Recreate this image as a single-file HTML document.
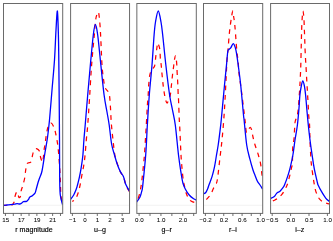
<!DOCTYPE html><html><head><meta charset="utf-8"><style>html,body{margin:0;padding:0;background:#fff}svg{display:block;will-change:transform;opacity:0.999}text{font-family:"Liberation Sans",sans-serif;fill:#000;stroke:#000;stroke-width:0.15px}.t{stroke-width:0.04px}</style></head><body>
<svg width="333" height="241" viewBox="0 0 333 241">
<rect width="333" height="241" fill="#fff"/>
<clipPath id="c0"><rect x="3.50" y="3.50" width="59.20" height="209.90"/></clipPath>
<line x1="3.50" x2="62.70" y1="205.30" y2="205.30" stroke="#e4e4e4" stroke-width="0.45"/>
<g clip-path="url(#c0)" fill="none" stroke-linejoin="round">
<path d="M3.60 205.30 C4.92 205.27 9.85 205.48 11.50 205.10 C13.15 204.72 12.98 203.73 13.50 203.00 C14.02 202.27 14.32 201.93 14.60 200.70 C14.88 199.47 14.78 197.07 15.20 195.60 C15.62 194.13 16.47 191.58 17.10 191.90 C17.73 192.22 18.42 196.82 19.00 197.50 C19.58 198.18 20.23 197.15 20.60 196.00 C20.97 194.85 20.83 192.33 21.20 190.60 C21.57 188.87 22.22 187.70 22.80 185.60 C23.38 183.50 24.22 180.60 24.70 178.00 C25.18 175.40 25.33 172.33 25.70 170.00 C26.07 167.67 26.38 165.22 26.90 164.00 C27.42 162.78 28.17 163.00 28.80 162.70 C29.43 162.40 30.17 163.05 30.70 162.20 C31.23 161.35 31.58 159.20 32.00 157.60 C32.42 156.00 32.70 153.93 33.20 152.60 C33.70 151.27 34.37 150.23 35.00 149.60 C35.63 148.97 36.25 148.52 37.00 148.80 C37.75 149.08 38.97 150.13 39.50 151.30 C40.03 152.47 39.83 154.22 40.20 155.80 C40.57 157.38 41.30 159.77 41.70 160.80 C42.10 161.83 42.32 162.63 42.60 162.00 C42.88 161.37 43.13 159.20 43.40 157.00 C43.67 154.80 43.90 150.97 44.20 148.80 C44.50 146.63 44.90 145.97 45.20 144.00 C45.50 142.03 45.53 139.83 46.00 137.00 C46.47 134.17 47.17 129.33 48.00 127.00 C48.83 124.67 50.00 122.92 51.00 123.00 C52.00 123.08 53.17 125.50 54.00 127.50 C54.83 129.50 55.33 131.75 56.00 135.00 C56.67 138.25 57.42 142.00 58.00 147.00 C58.58 152.00 59.12 159.50 59.50 165.00 C59.88 170.50 60.07 175.00 60.30 180.00 C60.53 185.00 60.53 190.92 60.90 195.00 C61.27 199.08 62.23 202.92 62.50 204.50" stroke="#f00" stroke-width="1.25" stroke-dasharray="4.7 4.7" stroke-dashoffset="1.50" id="r0"/>
<path d="M3.60 205.30 C4.17 205.25 5.80 205.10 7.00 205.00 C8.20 204.90 9.53 204.83 10.80 204.70 C12.07 204.57 13.55 204.38 14.60 204.20 C15.65 204.02 16.25 203.63 17.10 203.60 C17.95 203.57 18.97 204.07 19.70 204.00 C20.43 203.93 20.88 203.58 21.50 203.20 C22.12 202.82 22.55 202.02 23.40 201.70 C24.25 201.38 25.75 201.68 26.60 201.30 C27.45 200.92 27.98 200.08 28.50 199.40 C29.02 198.72 29.07 197.82 29.70 197.20 C30.33 196.58 31.42 196.38 32.30 195.70 C33.18 195.02 34.38 194.05 35.00 193.10 C35.62 192.15 35.52 191.68 36.00 190.00 C36.48 188.32 37.30 185.00 37.90 183.00 C38.50 181.00 38.92 180.00 39.60 178.00 C40.28 176.00 41.10 175.25 42.00 171.00 C42.90 166.75 44.08 158.08 45.00 152.50 C45.92 146.92 46.75 142.92 47.50 137.50 C48.25 132.08 48.75 127.92 49.50 120.00 C50.25 112.08 51.17 100.00 52.00 90.00 C52.83 80.00 53.83 70.00 54.50 60.00 C55.17 50.00 55.52 38.17 56.00 30.00 C56.48 21.83 57.00 10.17 57.40 11.00 C57.80 11.83 58.17 26.83 58.40 35.00 C58.63 43.17 58.67 49.17 58.80 60.00 C58.93 70.83 59.08 86.67 59.20 100.00 C59.32 113.33 59.42 126.67 59.50 140.00 C59.58 153.33 59.57 170.83 59.70 180.00 C59.83 189.17 59.83 190.92 60.30 195.00 C60.77 199.08 62.13 202.92 62.50 204.50" stroke="#0000ff" stroke-width="1.3"/>
</g>
<rect x="3.50" y="3.50" width="59.20" height="209.90" fill="none" stroke="#6a6a6a" stroke-width="1.00"/>
<line x1="5.45" x2="5.45" y1="213.40" y2="216.00" stroke="#555" stroke-width="0.85"/>
<text class="t" x="5.65" y="221.7" font-size="6.20" text-anchor="middle">15</text>
<line x1="13.31" x2="13.31" y1="213.40" y2="216.00" stroke="#555" stroke-width="0.85"/>
<line x1="21.17" x2="21.17" y1="213.40" y2="216.00" stroke="#555" stroke-width="0.85"/>
<text class="t" x="21.37" y="221.7" font-size="6.20" text-anchor="middle">17</text>
<line x1="29.03" x2="29.03" y1="213.40" y2="216.00" stroke="#555" stroke-width="0.85"/>
<line x1="36.89" x2="36.89" y1="213.40" y2="216.00" stroke="#555" stroke-width="0.85"/>
<text class="t" x="37.09" y="221.7" font-size="6.20" text-anchor="middle">19</text>
<line x1="44.75" x2="44.75" y1="213.40" y2="216.00" stroke="#555" stroke-width="0.85"/>
<line x1="52.61" x2="52.61" y1="213.40" y2="216.00" stroke="#555" stroke-width="0.85"/>
<text class="t" x="52.81" y="221.7" font-size="6.20" text-anchor="middle">21</text>
<line x1="60.47" x2="60.47" y1="213.40" y2="216.00" stroke="#555" stroke-width="0.85"/>
<text x="34.00" y="232" font-size="7.10" text-anchor="middle">r magnitude</text>
<clipPath id="c1"><rect x="70.60" y="3.50" width="58.95" height="209.90"/></clipPath>
<line x1="70.60" x2="129.55" y1="205.30" y2="205.30" stroke="#e4e4e4" stroke-width="0.45"/>
<g clip-path="url(#c1)" fill="none" stroke-linejoin="round">
<path d="M72.30 201.50 C72.85 201.05 74.63 200.22 75.60 198.80 C76.57 197.38 77.37 195.22 78.10 193.00 C78.83 190.78 79.37 188.50 80.00 185.50 C80.63 182.50 81.27 178.42 81.90 175.00 C82.53 171.58 83.28 168.23 83.80 165.00 C84.32 161.77 84.58 159.77 85.00 155.60 C85.42 151.43 85.86 144.93 86.30 140.00 C86.74 135.07 87.12 132.87 87.65 126.00 C88.18 119.13 88.84 108.97 89.50 98.80 C90.16 88.63 90.80 75.63 91.60 65.00 C92.40 54.37 93.60 42.67 94.30 35.00 C95.00 27.33 95.35 22.42 95.80 19.00 C96.25 15.58 96.58 15.67 97.00 14.50 C97.42 13.33 97.97 11.92 98.30 12.00 C98.63 12.08 98.72 12.83 99.00 15.00 C99.28 17.17 99.69 20.83 100.00 25.00 C100.31 29.17 100.52 33.33 100.85 40.00 C101.18 46.67 101.59 58.73 102.00 65.00 C102.41 71.27 102.77 73.82 103.30 77.60 C103.83 81.38 104.25 85.07 105.20 87.70 C106.15 90.33 108.15 90.52 109.00 93.40 C109.85 96.28 109.92 100.07 110.30 105.00 C110.68 109.93 110.85 117.17 111.30 123.00 C111.75 128.83 112.38 134.50 113.00 140.00 C113.62 145.50 114.23 151.90 115.00 156.00 C115.77 160.10 116.67 161.90 117.60 164.60 C118.53 167.30 119.58 170.10 120.60 172.20 C121.62 174.30 122.82 175.07 123.70 177.20 C124.58 179.33 124.93 182.57 125.90 185.00 C126.87 187.43 128.90 190.67 129.50 191.80" stroke="#f00" stroke-width="1.25" stroke-dasharray="4.7 4.7" stroke-dashoffset="2.75" id="r1"/>
<path d="M70.50 199.40 C71.03 198.67 72.75 196.68 73.70 195.00 C74.65 193.32 75.57 190.97 76.20 189.30 C76.83 187.63 76.98 186.93 77.50 185.00 C78.02 183.07 78.68 180.60 79.30 177.70 C79.92 174.80 80.60 171.38 81.20 167.60 C81.80 163.82 82.45 159.60 82.90 155.00 C83.35 150.40 83.52 145.00 83.90 140.00 C84.28 135.00 84.57 132.50 85.20 125.00 C85.83 117.50 86.84 105.00 87.70 95.00 C88.56 85.00 89.42 75.00 90.35 65.00 C91.28 55.00 92.47 41.75 93.30 35.00 C94.12 28.25 94.57 24.50 95.30 24.50 C96.03 24.50 96.78 28.25 97.70 35.00 C98.62 41.75 99.78 55.00 100.85 65.00 C101.92 75.00 103.07 87.17 104.10 95.00 C105.12 102.83 106.15 107.00 107.00 112.00 C107.85 117.00 108.43 119.67 109.20 125.00 C109.97 130.33 110.72 139.00 111.60 144.00 C112.48 149.00 113.58 151.70 114.50 155.00 C115.42 158.30 116.15 161.07 117.10 163.80 C118.05 166.53 119.15 169.30 120.20 171.40 C121.25 173.50 122.50 174.30 123.40 176.40 C124.30 178.50 124.58 181.53 125.60 184.00 C126.62 186.47 128.85 190.00 129.50 191.20" stroke="#0000ff" stroke-width="1.3"/>
</g>
<rect x="70.60" y="3.50" width="58.95" height="209.90" fill="none" stroke="#6a6a6a" stroke-width="1.00"/>
<line x1="72.40" x2="72.40" y1="213.40" y2="216.00" stroke="#555" stroke-width="0.85"/>
<text class="t" x="72.60" y="221.7" font-size="6.20" text-anchor="middle">−1</text>
<line x1="84.85" x2="84.85" y1="213.40" y2="216.00" stroke="#555" stroke-width="0.85"/>
<text class="t" x="85.05" y="221.7" font-size="6.20" text-anchor="middle">0</text>
<line x1="97.30" x2="97.30" y1="213.40" y2="216.00" stroke="#555" stroke-width="0.85"/>
<text class="t" x="97.50" y="221.7" font-size="6.20" text-anchor="middle">1</text>
<line x1="109.75" x2="109.75" y1="213.40" y2="216.00" stroke="#555" stroke-width="0.85"/>
<text class="t" x="109.95" y="221.7" font-size="6.20" text-anchor="middle">2</text>
<line x1="122.20" x2="122.20" y1="213.40" y2="216.00" stroke="#555" stroke-width="0.85"/>
<text class="t" x="122.40" y="221.7" font-size="6.20" text-anchor="middle">3</text>
<text x="100.00" y="232" font-size="7.10" text-anchor="middle">u–g</text>
<clipPath id="c2"><rect x="136.85" y="3.50" width="59.45" height="209.90"/></clipPath>
<line x1="136.85" x2="196.30" y1="205.30" y2="205.30" stroke="#e4e4e4" stroke-width="0.45"/>
<g clip-path="url(#c2)" fill="none" stroke-linejoin="round">
<path d="M136.60 201.80 C136.92 201.08 137.87 199.47 138.50 197.50 C139.13 195.53 139.83 192.92 140.40 190.00 C140.97 187.08 141.28 185.20 141.90 180.00 C142.52 174.80 143.65 163.35 144.10 158.80 C144.55 154.25 144.23 158.33 144.60 152.70 C144.97 147.07 145.83 132.95 146.30 125.00 C146.77 117.05 147.08 110.00 147.40 105.00 C147.72 100.00 148.00 98.10 148.20 95.00 C148.40 91.90 148.33 89.73 148.60 86.40 C148.87 83.07 149.23 77.83 149.80 75.00 C150.37 72.17 151.20 70.90 152.00 69.40 C152.80 67.90 153.97 68.17 154.60 66.00 C155.23 63.83 155.40 59.57 155.80 56.40 C156.20 53.23 156.69 49.23 157.00 47.00 C157.31 44.77 157.33 43.22 157.65 43.00 C157.97 42.78 158.53 44.53 158.90 45.70 C159.28 46.87 159.65 47.78 159.90 50.00 C160.15 52.22 160.18 56.50 160.40 59.00 C160.62 61.50 160.92 62.33 161.20 65.00 C161.48 67.67 161.75 71.43 162.10 75.00 C162.45 78.57 162.88 83.07 163.30 86.40 C163.72 89.73 164.22 92.73 164.60 95.00 C164.98 97.27 165.18 98.67 165.60 100.00 C166.02 101.33 166.60 103.00 167.10 103.00 C167.60 103.00 168.07 101.33 168.60 100.00 C169.13 98.67 169.85 97.27 170.30 95.00 C170.75 92.73 170.93 89.73 171.30 86.40 C171.67 83.07 172.08 78.57 172.50 75.00 C172.92 71.43 173.45 67.67 173.80 65.00 C174.15 62.33 174.33 60.53 174.60 59.00 C174.87 57.47 175.13 55.80 175.40 55.80 C175.67 55.80 175.97 57.47 176.20 59.00 C176.43 60.53 176.63 62.53 176.80 65.00 C176.97 67.47 177.03 70.63 177.20 73.80 C177.37 76.97 177.63 80.47 177.80 84.00 C177.97 87.53 178.08 92.53 178.20 95.00 C178.32 97.47 178.32 94.63 178.50 98.80 C178.68 102.97 179.10 115.47 179.30 120.00 C179.50 124.53 179.42 120.17 179.70 126.00 C179.98 131.83 180.62 148.00 181.00 155.00 C181.38 162.00 181.63 163.83 182.00 168.00 C182.37 172.17 182.85 177.28 183.20 180.00 C183.55 182.72 183.53 181.92 184.10 184.30 C184.67 186.68 185.65 191.68 186.60 194.30 C187.55 196.92 188.75 198.73 189.80 200.00 C190.85 201.27 191.82 201.40 192.90 201.90 C193.98 202.40 195.73 202.82 196.30 203.00" stroke="#f00" stroke-width="1.25" stroke-dasharray="4.7 4.7" stroke-dashoffset="5.85" id="r2"/>
<path d="M136.60 202.20 C137.17 201.32 139.12 198.83 140.00 196.90 C140.88 194.97 141.43 192.58 141.90 190.60 C142.37 188.62 142.17 190.93 142.80 185.00 C143.43 179.07 144.94 165.00 145.70 155.00 C146.46 145.00 146.75 135.00 147.35 125.00 C147.95 115.00 148.53 105.00 149.30 95.00 C150.08 85.00 151.20 75.00 152.00 65.00 C152.80 55.00 153.52 42.17 154.10 35.00 C154.68 27.83 154.81 26.00 155.50 22.00 C156.19 18.00 157.33 11.00 158.25 11.00 C159.17 11.00 160.26 18.00 161.00 22.00 C161.74 26.00 161.89 27.83 162.70 35.00 C163.51 42.17 164.70 55.00 165.85 65.00 C167.00 75.00 168.49 87.50 169.60 95.00 C170.71 102.50 171.55 105.00 172.50 110.00 C173.45 115.00 174.30 117.50 175.30 125.00 C176.30 132.50 177.55 147.05 178.50 155.00 C179.45 162.95 180.27 168.03 181.00 172.70 C181.73 177.37 182.17 180.23 182.90 183.00 C183.63 185.77 184.35 187.30 185.40 189.30 C186.45 191.30 187.83 193.42 189.20 195.00 C190.57 196.58 192.42 197.97 193.60 198.80 C194.78 199.63 195.85 199.80 196.30 200.00" stroke="#0000ff" stroke-width="1.3"/>
</g>
<rect x="136.85" y="3.50" width="59.45" height="209.90" fill="none" stroke="#6a6a6a" stroke-width="1.00"/>
<line x1="139.10" x2="139.10" y1="213.40" y2="216.00" stroke="#555" stroke-width="0.85"/>
<text class="t" x="139.30" y="221.7" font-size="6.20" text-anchor="middle">0.0</text>
<line x1="150.02" x2="150.02" y1="213.40" y2="216.00" stroke="#555" stroke-width="0.85"/>
<line x1="160.94" x2="160.94" y1="213.40" y2="216.00" stroke="#555" stroke-width="0.85"/>
<text class="t" x="161.14" y="221.7" font-size="6.20" text-anchor="middle">1.0</text>
<line x1="171.86" x2="171.86" y1="213.40" y2="216.00" stroke="#555" stroke-width="0.85"/>
<line x1="182.78" x2="182.78" y1="213.40" y2="216.00" stroke="#555" stroke-width="0.85"/>
<text class="t" x="182.98" y="221.7" font-size="6.20" text-anchor="middle">2.0</text>
<line x1="193.70" x2="193.70" y1="213.40" y2="216.00" stroke="#555" stroke-width="0.85"/>
<text x="166.75" y="232" font-size="7.10" text-anchor="middle">g–r</text>
<clipPath id="c3"><rect x="203.50" y="3.50" width="59.20" height="209.90"/></clipPath>
<line x1="203.50" x2="262.70" y1="205.30" y2="205.30" stroke="#e4e4e4" stroke-width="0.45"/>
<g clip-path="url(#c3)" fill="none" stroke-linejoin="round">
<path d="M203.50 202.20 C204.08 201.63 205.78 200.12 207.00 198.80 C208.22 197.48 209.75 195.98 210.80 194.30 C211.85 192.62 212.50 190.37 213.30 188.70 C214.10 187.03 214.93 185.75 215.60 184.30 C216.27 182.85 216.57 184.47 217.30 180.00 C218.03 175.53 219.22 164.17 220.00 157.50 C220.78 150.83 221.38 146.25 222.00 140.00 C222.62 133.75 223.25 126.67 223.75 120.00 C224.25 113.33 224.58 107.50 225.00 100.00 C225.42 92.50 225.92 81.67 226.25 75.00 C226.58 68.33 226.71 64.17 227.00 60.00 C227.29 55.83 227.60 54.55 228.00 50.00 C228.40 45.45 228.87 37.85 229.40 32.70 C229.93 27.55 230.63 22.72 231.20 19.10 C231.77 15.48 232.38 11.35 232.80 11.00 C233.22 10.65 233.43 15.27 233.70 17.00 C233.97 18.73 234.13 19.08 234.40 21.40 C234.67 23.72 234.91 26.13 235.30 30.90 C235.69 35.67 236.27 44.82 236.75 50.00 C237.23 55.18 237.84 58.25 238.20 62.00 C238.56 65.75 238.38 67.83 238.90 72.50 C239.42 77.17 240.28 82.08 241.30 90.00 C242.32 97.92 244.17 113.00 245.00 120.00 C245.83 127.00 245.80 130.33 246.30 132.00 C246.80 133.67 247.35 130.77 248.00 130.00 C248.65 129.23 249.62 127.48 250.20 127.40 C250.78 127.32 251.03 127.90 251.50 129.50 C251.97 131.10 252.43 134.50 253.00 137.00 C253.57 139.50 254.07 141.70 254.90 144.50 C255.73 147.30 257.05 150.57 258.00 153.80 C258.95 157.03 259.97 160.63 260.60 163.90 C261.23 167.17 261.47 170.88 261.80 173.40 C262.13 175.92 262.47 178.07 262.60 179.00" stroke="#f00" stroke-width="1.25" stroke-dasharray="4.7 4.7" stroke-dashoffset="5.50" id="r3"/>
<path d="M203.50 193.80 C203.88 193.58 205.10 193.35 205.80 192.50 C206.50 191.65 207.12 190.12 207.70 188.70 C208.28 187.28 208.57 186.05 209.30 184.00 C210.03 181.95 211.22 179.35 212.10 176.40 C212.98 173.45 213.87 169.87 214.60 166.30 C215.33 162.73 215.90 158.55 216.50 155.00 C217.10 151.45 217.70 148.33 218.20 145.00 C218.70 141.67 218.99 139.17 219.50 135.00 C220.01 130.83 220.42 128.33 221.25 120.00 C222.08 111.67 223.62 94.17 224.50 85.00 C225.38 75.83 225.95 70.60 226.50 65.00 C227.05 59.40 227.38 53.98 227.80 51.40 C228.22 48.82 228.48 50.13 229.00 49.50 C229.52 48.87 230.20 48.58 230.90 47.60 C231.60 46.62 232.47 43.60 233.20 43.60 C233.93 43.60 234.73 45.88 235.30 47.60 C235.87 49.32 236.12 51.00 236.60 53.90 C237.08 56.80 237.52 59.82 238.20 65.00 C238.88 70.18 239.82 76.67 240.70 85.00 C241.58 93.33 242.93 109.17 243.50 115.00 C244.07 120.83 243.57 115.00 244.10 120.00 C244.63 125.00 245.74 138.52 246.70 145.00 C247.66 151.48 248.80 154.73 249.85 158.90 C250.90 163.07 252.16 167.32 253.00 170.00 C253.84 172.68 254.17 173.12 254.90 175.00 C255.63 176.88 256.55 179.63 257.40 181.30 C258.25 182.97 259.13 183.70 260.00 185.00 C260.87 186.30 262.17 188.42 262.60 189.10" stroke="#0000ff" stroke-width="1.3"/>
</g>
<rect x="203.50" y="3.50" width="59.20" height="209.90" fill="none" stroke="#6a6a6a" stroke-width="1.00"/>
<line x1="205.40" x2="205.40" y1="213.40" y2="216.00" stroke="#555" stroke-width="0.85"/>
<text class="t" x="205.60" y="221.7" font-size="6.20" text-anchor="middle">−0.2</text>
<line x1="214.57" x2="214.57" y1="213.40" y2="216.00" stroke="#555" stroke-width="0.85"/>
<line x1="223.74" x2="223.74" y1="213.40" y2="216.00" stroke="#555" stroke-width="0.85"/>
<text class="t" x="223.94" y="221.7" font-size="6.20" text-anchor="middle">0.2</text>
<line x1="232.91" x2="232.91" y1="213.40" y2="216.00" stroke="#555" stroke-width="0.85"/>
<line x1="242.08" x2="242.08" y1="213.40" y2="216.00" stroke="#555" stroke-width="0.85"/>
<text class="t" x="242.28" y="221.7" font-size="6.20" text-anchor="middle">0.6</text>
<line x1="251.25" x2="251.25" y1="213.40" y2="216.00" stroke="#555" stroke-width="0.85"/>
<line x1="260.42" x2="260.42" y1="213.40" y2="216.00" stroke="#555" stroke-width="0.85"/>
<text class="t" x="260.62" y="221.7" font-size="6.20" text-anchor="middle">1.0</text>
<text x="233.00" y="232" font-size="7.10" text-anchor="middle">r–i</text>
<clipPath id="c4"><rect x="270.60" y="3.50" width="58.90" height="209.90"/></clipPath>
<line x1="270.60" x2="329.50" y1="205.30" y2="205.30" stroke="#e4e4e4" stroke-width="0.45"/>
<g clip-path="url(#c4)" fill="none" stroke-linejoin="round">
<path d="M270.50 201.70 C271.23 201.42 273.63 200.63 274.90 200.00 C276.17 199.37 276.93 198.85 278.10 197.90 C279.27 196.95 280.85 195.52 281.90 194.30 C282.95 193.08 283.57 192.07 284.40 190.60 C285.23 189.13 286.33 186.77 286.90 185.50 C287.47 184.23 287.42 184.30 287.80 183.00 C288.18 181.70 288.80 179.22 289.20 177.70 C289.60 176.18 289.83 175.48 290.20 173.90 C290.57 172.32 291.03 170.02 291.40 168.20 C291.77 166.38 292.18 166.32 292.40 163.00 C292.62 159.68 292.43 152.32 292.70 148.30 C292.97 144.28 293.68 142.15 294.00 138.90 C294.32 135.65 294.40 131.70 294.60 128.80 C294.80 125.90 294.67 124.18 295.20 121.50 C295.73 118.82 297.12 117.12 297.80 112.70 C298.48 108.28 298.95 99.58 299.30 95.00 C299.65 90.42 299.73 88.10 299.90 85.20 C300.07 82.30 300.15 80.97 300.30 77.60 C300.45 74.23 300.65 70.00 300.80 65.00 C300.95 60.00 301.08 52.60 301.20 47.60 C301.32 42.60 301.42 38.27 301.50 35.00 C301.58 31.73 301.58 30.83 301.70 28.00 C301.82 25.17 301.98 20.83 302.20 18.00 C302.42 15.17 302.72 11.00 303.00 11.00 C303.28 11.00 303.68 15.17 303.90 18.00 C304.12 20.83 304.17 24.53 304.30 28.00 C304.43 31.47 304.57 35.12 304.70 38.80 C304.83 42.48 304.95 46.53 305.10 50.10 C305.25 53.67 305.45 57.50 305.60 60.20 C305.75 62.90 305.83 63.40 306.00 66.30 C306.17 69.20 306.40 74.03 306.60 77.60 C306.80 81.17 307.03 84.80 307.20 87.70 C307.37 90.60 307.43 92.12 307.60 95.00 C307.77 97.88 308.02 101.63 308.20 105.00 C308.38 108.37 308.48 112.03 308.70 115.20 C308.92 118.37 309.28 119.87 309.50 124.00 C309.72 128.13 309.77 134.20 310.00 140.00 C310.23 145.80 310.60 154.20 310.90 158.80 C311.20 163.40 311.33 163.92 311.80 167.60 C312.27 171.28 313.22 177.80 313.70 180.90 C314.18 184.00 314.38 184.58 314.70 186.20 C315.02 187.82 315.13 189.03 315.60 190.60 C316.07 192.17 316.87 194.23 317.50 195.60 C318.13 196.97 318.45 197.70 319.40 198.80 C320.35 199.90 321.95 201.43 323.20 202.20 C324.45 202.97 325.87 203.12 326.90 203.40 C327.93 203.68 328.98 203.82 329.40 203.90" stroke="#f00" stroke-width="1.25" stroke-dasharray="4.7 4.7" stroke-dashoffset="6.95" id="r4"/>
<path d="M270.50 198.40 C271.13 198.10 273.25 197.48 274.30 196.60 C275.35 195.72 275.85 194.00 276.80 193.10 C277.75 192.20 278.95 192.15 280.00 191.20 C281.05 190.25 282.35 188.43 283.10 187.40 C283.85 186.37 283.74 186.83 284.50 185.00 C285.26 183.17 286.70 179.30 287.65 176.40 C288.60 173.50 289.32 171.17 290.20 167.60 C291.07 164.03 292.10 159.60 292.90 155.00 C293.70 150.40 294.25 145.00 295.00 140.00 C295.75 135.00 296.73 130.33 297.40 125.00 C298.07 119.67 298.58 113.00 299.00 108.00 C299.42 103.00 299.52 98.67 299.90 95.00 C300.28 91.33 300.82 88.37 301.30 86.00 C301.78 83.63 302.28 80.80 302.80 80.80 C303.32 80.80 303.93 83.63 304.40 86.00 C304.87 88.37 305.18 91.00 305.60 95.00 C306.02 99.00 306.45 105.00 306.90 110.00 C307.35 115.00 307.78 120.00 308.30 125.00 C308.82 130.00 309.37 135.00 310.00 140.00 C310.63 145.00 311.38 150.18 312.10 155.00 C312.82 159.82 313.40 164.23 314.30 168.90 C315.20 173.57 316.87 180.32 317.50 183.00 C318.13 185.68 317.47 183.63 318.10 185.00 C318.73 186.37 320.03 189.02 321.30 191.20 C322.57 193.38 324.35 196.40 325.70 198.10 C327.05 199.80 328.78 200.85 329.40 201.40" stroke="#0000ff" stroke-width="1.3"/>
</g>
<rect x="270.60" y="3.50" width="58.90" height="209.90" fill="none" stroke="#6a6a6a" stroke-width="1.00"/>
<line x1="272.20" x2="272.20" y1="213.40" y2="216.00" stroke="#555" stroke-width="0.85"/>
<text class="t" x="272.40" y="221.7" font-size="6.20" text-anchor="middle">−0.5</text>
<line x1="290.60" x2="290.60" y1="213.40" y2="216.00" stroke="#555" stroke-width="0.85"/>
<text class="t" x="290.80" y="221.7" font-size="6.20" text-anchor="middle">0.0</text>
<line x1="309.00" x2="309.00" y1="213.40" y2="216.00" stroke="#555" stroke-width="0.85"/>
<text class="t" x="309.20" y="221.7" font-size="6.20" text-anchor="middle">0.5</text>
<line x1="327.40" x2="327.40" y1="213.40" y2="216.00" stroke="#555" stroke-width="0.85"/>
<text class="t" x="327.60" y="221.7" font-size="6.20" text-anchor="middle">1.0</text>
<text x="299.80" y="232" font-size="7.10" text-anchor="middle">i–z</text>
</svg></body></html>
